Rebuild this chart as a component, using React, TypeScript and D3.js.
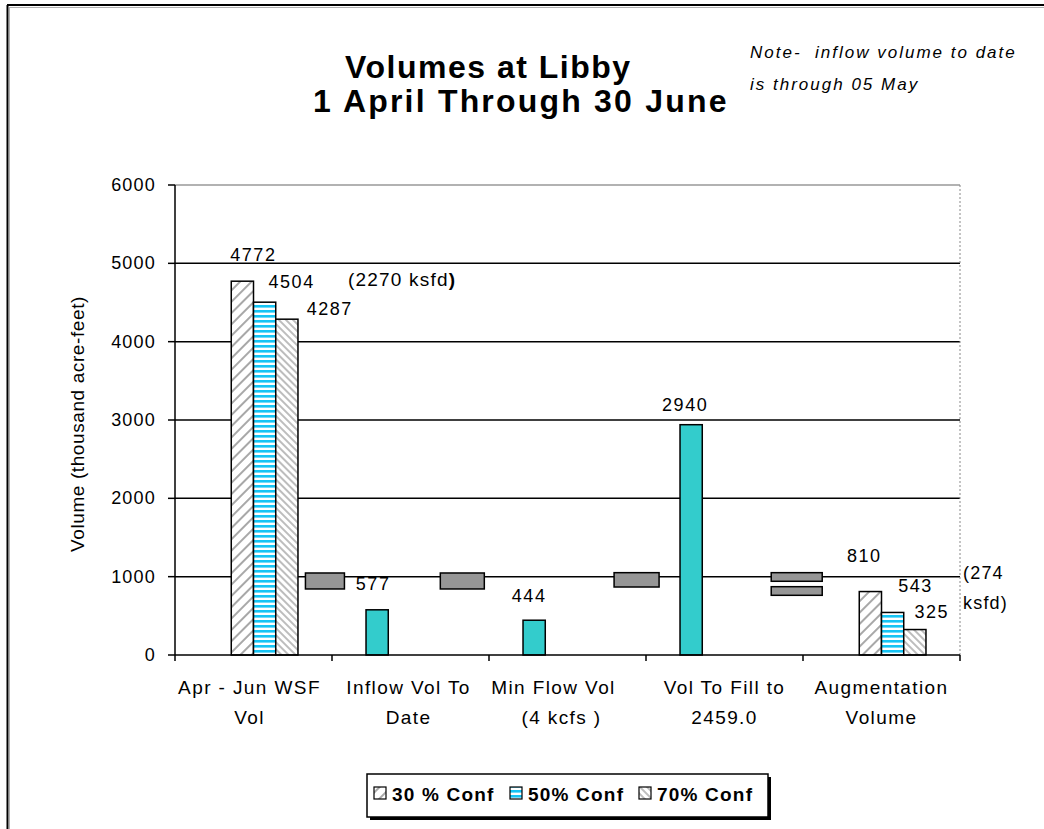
import React from "react";
import * as d3 from "d3";

// categories (two text lines each, as wrapped on the axis)
const categoryLines = [
  ["Apr - Jun WSF", "Vol"],
  ["Inflow Vol To", "Date"],
  ["Min Flow Vol", "(4 kcfs )"],
  ["Vol To Fill to", "2459.0"],
  ["Augmentation", "Volume"],
];
const categories = categoryLines.map((l) => l.join(" "));

// series (null = no bar)
const seriesKeys = ["inflow", "c30", "c50", "c70"];
const inflowValues = [null, 577, 444, 2940, null];
const conf30Values = [4772, null, null, null, 810];
const conf50Values = [4504, null, null, null, 543];
const conf70Values = [4287, null, null, null, 325];
const legendLabels = ["30 % Conf", "50% Conf", "70% Conf"];
const yTicks = [0, 1000, 2000, 3000, 4000, 5000, 6000];

// gray reference boxes: category anchor (in category units) and value range
const markerAnchor = [0.955, 1.83, 2.94, 3.96, 3.96];
const markerLo = [843, 843, 868, 941, 762];
const markerHi = [1047, 1047, 1051, 1051, 872];

const W = 1044;
const H = 829;
const m = { left: 175, right: 84, top: 185, bottom: 174 };
const FONT = "Arial, 'Liberation Sans', sans-serif";

export default function App() {
  const x = d3.scaleBand().domain(categories).range([m.left, W - m.right]).padding(0);
  const xCat = d3.scaleLinear().domain([0, categories.length]).range([m.left, W - m.right]);
  const inner = d3
    .scaleBand()
    .domain(seriesKeys)
    .range([0, x.bandwidth()])
    .paddingInner(0)
    .paddingOuter(1.53);
  const y = d3.scaleLinear().domain([0, 6000]).range([H - m.bottom, m.top]);

  const series = [
    { key: "inflow", values: inflowValues, fill: "#33cccc" },
    { key: "c30", values: conf30Values, fill: "url(#p30)" },
    { key: "c50", values: conf50Values, fill: "url(#p50)" },
    { key: "c70", values: conf70Values, fill: "url(#p70)" },
  ];

  // label nudges [dx, dy] from bar center / top, per series and category
  const nudge: Record<string, number[][]> = {
    inflow: [[0, 0], [-4, -20], [-5, -18], [-6, -14], [0, 0]],
    c30: [[11, -20], [0, 0], [0, 0], [0, 0], [-6, -30]],
    c50: [[27, -14], [0, 0], [0, 0], [0, 0], [23, -20]],
    c70: [[43, -4], [0, 0], [0, 0], [0, 0], [17, -12]],
  };
  // small horizontal shifts of the wrapped category text
  const catNudge = [[-4, -4], [-2, -2], [-14, -6], [0, 0], [0, 0]];
  const markerWidths = [39, 44, 45, 51, 51];

  const x0 = m.left;
  const x1 = W - m.right;
  const yBase = y(0);

  const legendX = 367;
  const legendY = 774;
  const legendItemX = [374, 510, 639];

  return (
    <svg
      width={W}
      height={H}
      style={{ position: "absolute", left: 0, top: 0, background: "#fff" }}
      fontFamily={FONT}
    >
      <defs>
        <pattern id="p30" patternUnits="userSpaceOnUse" width={8} height={8} patternTransform="rotate(45)">
          <rect width={8} height={8} fill="#fff" />
          <line x1={1} y1={0} x2={1} y2={8} stroke="#a8a8a8" strokeWidth={2} />
        </pattern>
        <pattern id="p50" patternUnits="userSpaceOnUse" width={5} height={5}>
          <rect width={5} height={5} fill="#fff" />
          <rect width={5} height={2.6} fill="#16c4f4" />
        </pattern>
        <pattern id="p70" patternUnits="userSpaceOnUse" width={5} height={5} patternTransform="rotate(-45)">
          <rect width={5} height={5} fill="#fff" />
          <line x1={1} y1={0} x2={1} y2={5} stroke="#9a9a9a" strokeWidth={1.3} />
        </pattern>
      </defs>

      {/* outer frame */}
      <line x1={7.5} y1={5} x2={7.5} y2={H} stroke="#000" strokeWidth={2} />
      <line x1={7} y1={5} x2={W} y2={5} stroke="#000" strokeWidth={2} />
      <line x1={9.5} y1={7} x2={9.5} y2={H} stroke="#b0b0b0" strokeWidth={1} />
      <line x1={9} y1={7.5} x2={W} y2={7.5} stroke="#b0b0b0" strokeWidth={1} />

      {/* title */}
      <text x={345} y={78} fontSize={32} fontWeight="bold" letterSpacing={1.5} fill="#000">
        Volumes at Libby
      </text>
      <text x={313} y={112} fontSize={32} fontWeight="bold" letterSpacing={2.2} fill="#000">
        1 April Through 30 June
      </text>
      <text x={750} y={58} fontSize={17} fontStyle="italic" letterSpacing={2} fill="#000" style={{ whiteSpace: "pre" }}>
        {"Note-  inflow volume to date"}
      </text>
      <text x={750} y={90} fontSize={17} fontStyle="italic" letterSpacing={2} fill="#000">
        is through 05 May
      </text>

      {/* gridlines */}
      {yTicks.slice(1).map((t) => (
        <line
          key={t}
          x1={x0}
          x2={x1}
          y1={y(t)}
          y2={y(t)}
          stroke={t === 6000 ? "#999" : "#000"}
          strokeWidth={1.5}
        />
      ))}
      <line x1={x1} x2={x1} y1={y(6000)} y2={yBase} stroke="#888" strokeWidth={1} strokeDasharray="2,2" />

      {/* gray reference boxes */}
      {markerAnchor.map((a, i) => (
        <rect
          key={i}
          x={xCat(a) - markerWidths[i] / 2}
          width={markerWidths[i]}
          y={y(markerHi[i])}
          height={y(markerLo[i]) - y(markerHi[i])}
          fill="#969696"
          stroke="#000"
          strokeWidth={1.5}
        />
      ))}

      {/* bars */}
      {series.map((s) =>
        s.values.map((v, i) =>
          v == null ? null : (
            <rect
              key={s.key + i}
              x={(x(categories[i]) as number) + (inner(s.key) as number)}
              width={inner.bandwidth()}
              y={y(v)}
              height={yBase - y(v)}
              fill={s.fill}
              stroke="#000"
              strokeWidth={1.5}
            />
          )
        )
      )}

      {/* value labels */}
      {series.map((s) =>
        s.values.map((v, i) =>
          v == null ? null : (
            <text
              key={"l" + s.key + i}
              x={(x(categories[i]) as number) + (inner(s.key) as number) + inner.bandwidth() / 2 + nudge[s.key][i][0]}
              y={y(v) + nudge[s.key][i][1]}
              textAnchor="middle"
              fontSize={18}
              letterSpacing={1.5}
              fill="#000"
            >
              {v}
            </text>
          )
        )
      )}

      {/* annotations */}
      <text x={(x(categories[1]) as number) + 16} y={y(5000) + 23} fontSize={19} letterSpacing={1.2} fill="#000">
        (2270 ksfd<tspan fontWeight="bold">)</tspan>
      </text>
      <text x={x1 + 3} y={y(1000) + 2} fontSize={18} letterSpacing={1.2} fill="#000">
        (274
      </text>
      <text x={x1 + 3} y={y(1000) + 32} fontSize={18} letterSpacing={1.2} fill="#000">
        ksfd)
      </text>

      {/* y axis */}
      <line x1={x0} x2={x0} y1={y(6000)} y2={yBase} stroke="#000" strokeWidth={1.5} />
      {yTicks.map((t) => (
        <g key={t}>
          <line x1={x0 - 7} x2={x0} y1={y(t)} y2={y(t)} stroke="#000" strokeWidth={1.5} />
          <text x={x0 - 19} y={y(t) + 6} textAnchor="end" fontSize={18} letterSpacing={1.2} fill="#000">
            {t}
          </text>
        </g>
      ))}
      <text
        transform={`translate(84, ${(y(0) + y(6000)) / 2 + 4}) rotate(-90)`}
        textAnchor="middle"
        fontSize={19}
        letterSpacing={0.6}
        fill="#000"
      >
        Volume (thousand acre-feet)
      </text>

      {/* x axis */}
      <line x1={x0} x2={x1} y1={yBase} y2={yBase} stroke="#000" strokeWidth={1.5} />
      {d3.range(categories.length + 1).map((i) => (
        <line key={i} x1={xCat(i)} x2={xCat(i)} y1={yBase} y2={yBase + 6} stroke="#000" strokeWidth={1.5} />
      ))}
      {categoryLines.map((lines, i) =>
        lines.map((l, j) => (
          <text
            key={i + "-" + j}
            x={(x(categories[i]) as number) + x.bandwidth() / 2 + catNudge[i][j]}
            y={yBase + 39 + j * 30}
            textAnchor="middle"
            fontSize={19}
            letterSpacing={1.4}
            fill="#000"
          >
            {l}
          </text>
        ))
      )}

      {/* legend */}
      <rect x={legendX + 3} y={legendY + 3} width={401} height={43} fill="#000" />
      <rect x={legendX} y={legendY} width={401} height={43} fill="#fff" stroke="#000" strokeWidth={1.5} />
      {legendLabels.map((l, i) => (
        <g key={l}>
          <rect
            x={legendItemX[i]}
            y={legendY + 13}
            width={12}
            height={12}
            fill={series[i + 1].fill}
            stroke="#000"
            strokeWidth={1.2}
          />
          <text
            x={legendItemX[i] + 18}
            y={legendY + 27}
            fontSize={19}
            fontWeight="bold"
            letterSpacing={1.2}
            fill="#000"
          >
            {l}
          </text>
        </g>
      ))}
    </svg>
  );
}
